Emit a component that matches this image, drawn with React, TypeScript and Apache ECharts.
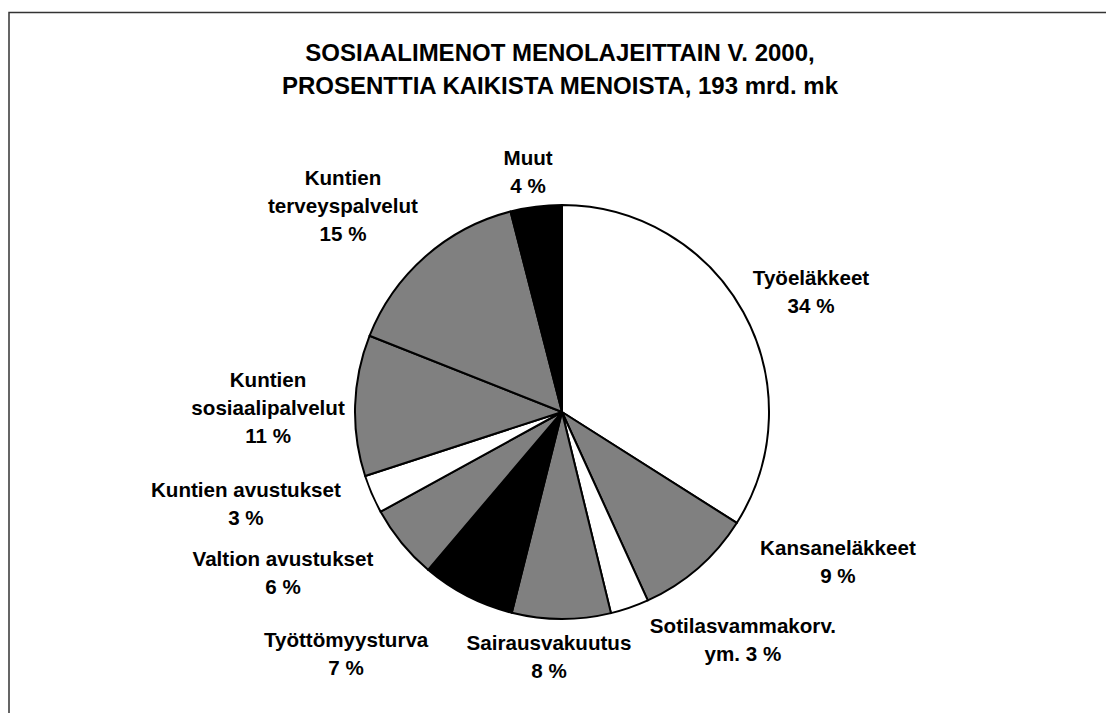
import React, { useEffect, useRef } from "react";
import * as echarts from "echarts";

// ---- data ----
const categories = [
  "Työeläkkeet",
  "Kansaneläkkeet",
  "Sotilasvammakorv.\nym.",
  "Sairausvakuutus",
  "Työttömyysturva",
  "Valtion avustukset",
  "Kuntien avustukset",
  "Kuntien\nsosiaalipalvelut",
  "Kuntien\nterveyspalvelut",
  "Muut",
];
const shares = [34, 9.2, 3.0, 7.7, 7.3, 5.8, 3.0, 11.0, 15.0, 4.0];
const titleLines = [
  "SOSIAALIMENOT MENOLAJEITTAIN V. 2000,",
  "PROSENTTIA KAIKISTA MENOISTA, 193 mrd. mk",
];

// ---- styles / layout ----
const fills = ["#ffffff", "#808080", "#ffffff", "#808080", "#000000", "#808080", "#ffffff", "#808080", "#808080", "#000000"];
const CX = 562;
const CY = 412;
const R = 207;
// label centres relative to pie centre, in units of the radius
const labelSpots: [number, number][] = [
  [1.203, -0.58],
  [1.333, 0.72],
  [0.874, 1.097],
  [-0.063, 1.179],
  [-1.043, 1.169],
  [-1.348, 0.773],
  [-1.527, 0.444],
  [-1.42, -0.024],
  [-1.058, -1.0],
  [-0.164, -1.164],
];
const FONT = "'Liberation Sans', Arial, Helvetica, sans-serif";

export default function App() {
  const ref = useRef<HTMLDivElement>(null);
  useEffect(() => {
    document.body.style.margin = "0";
    document.body.style.overflow = "hidden";
    if (!ref.current) return;
    const chart = echarts.init(ref.current, undefined, { renderer: "svg" });
    chart.setOption({
      animation: false,
      backgroundColor: "#ffffff",
      title: {
        text: titleLines.join("\n"),
        left: 560,
        top: 36,
        textAlign: "center",
        padding: 0,
        textStyle: {
          fontFamily: FONT,
          fontSize: 24,
          fontWeight: "bold",
          lineHeight: 33,
          color: "#000",
        },
      },
      graphic: [
        {
          type: "rect",
          silent: true,
          z: -10,
          shape: { x: 9, y: 12.5, width: 1200, height: 800 },
          style: { fill: "none", stroke: "#333", lineWidth: 1.5 },
        },
      ],
      series: [
        {
          type: "pie",
          center: [CX, CY],
          radius: [0, R],
          startAngle: 90,
          clockwise: true,
          avoidLabelOverlap: false,
          emphasis: { disabled: true },
          itemStyle: { borderColor: "#000", borderWidth: 2 },
          labelLine: { show: false },
          label: {
            show: true,
            position: "outside",
            align: "center",
            fontFamily: FONT,
            fontSize: 20.6,
            fontWeight: "bold",
            lineHeight: 28,
            color: "#000",
            formatter: (p: any) =>
              `${p.name}${p.name.endsWith("ym.") ? " " : "\n"}${Math.round(p.value)} %`,
          },
          labelLayout: (p: any) => {
            const s = labelSpots[p.dataIndex];
            return {
              x: CX + s[0] * R,
              y: CY + s[1] * R,
              align: "center",
              verticalAlign: "middle",
            };
          },
          data: categories.map((name, i) => ({
            name,
            value: shares[i],
            itemStyle: { color: fills[i] },
          })),
        },
      ],
    });
    return () => chart.dispose();
  }, []);
  return <div ref={ref} style={{ width: 1106, height: 713 }} />;
}
